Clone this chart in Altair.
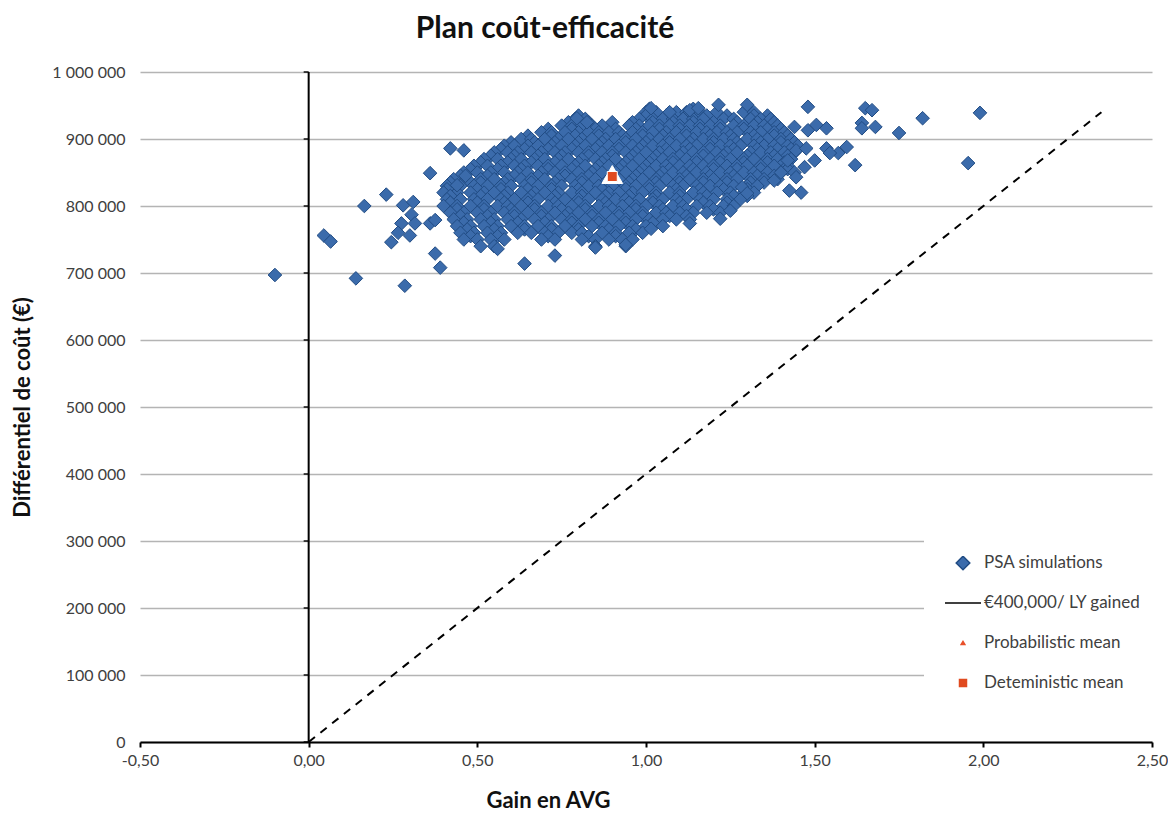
import altair as alt
import pandas as pd

SERIES = ["PSA simulations", "€400,000/ LY gained", "Probabilistic mean", "Deteministic mean"]

# Dense PSA core, read band by band: incremental LY values for each cost band (k€)
core_945 = [1.01, 1.14, 1.30]
core_940 = [1.00, 1.03, 1.09, 1.12, 1.16, 1.21, 1.29, 1.32]
core_935 = [0.80, 1.00, 1.06, 1.12, 1.18, 1.24, 1.32, 1.36]
core_930 = [0.79, 0.82, 0.98, 1.02, 1.05, 1.08, 1.11, 1.14, 1.17, 1.23, 1.26, 1.31, 1.34, 1.37]
core_925 = [0.77, 0.83, 0.90, 0.96, 1.02, 1.08, 1.14, 1.20, 1.27, 1.33, 1.38]
core_920 = [0.75, 0.78, 0.81, 0.84, 0.87, 0.95, 0.98, 1.01, 1.04, 1.07, 1.10, 1.13, 1.16, 1.19,
            1.22, 1.26, 1.29, 1.32, 1.35, 1.39]
core_915 = [0.71, 0.78, 0.85, 0.91, 0.97, 1.04, 1.10, 1.16, 1.22, 1.29, 1.36, 1.40]
core_910 = [0.69, 0.72, 0.76, 0.80, 0.83, 0.86, 0.89, 0.92, 0.96, 0.99, 1.02, 1.06, 1.09, 1.12,
            1.15, 1.18, 1.21, 1.24, 1.27, 1.31, 1.34, 1.38, 1.41]
core_905 = [0.65, 0.72, 0.79, 0.86, 0.93, 0.99, 1.05, 1.12, 1.19, 1.25, 1.32, 1.38, 1.42]
core_900 = [0.63, 0.66, 0.70, 0.74, 0.77, 0.81, 0.84, 0.88, 0.91, 0.94, 0.97, 1.01, 1.04, 1.07,
            1.10, 1.14, 1.17, 1.20, 1.23, 1.26, 1.30, 1.33, 1.36, 1.40, 1.43]
core_895 = [0.60, 0.67, 0.73, 0.80, 0.87, 0.94, 1.00, 1.07, 1.13, 1.20, 1.27, 1.34, 1.40, 1.44]
core_890 = [0.58, 0.61, 0.65, 0.68, 0.72, 0.75, 0.79, 0.82, 0.86, 0.89, 0.92, 0.96, 0.99, 1.02,
            1.05, 1.09, 1.12, 1.15, 1.19, 1.22, 1.25, 1.28, 1.32, 1.35, 1.38, 1.42, 1.45]
core_885 = [0.57, 0.64, 0.71, 0.78, 0.85, 0.92, 0.98, 1.06, 1.13, 1.19, 1.26, 1.33, 1.39, 1.43]
core_880 = [0.55, 0.59, 0.62, 0.66, 0.69, 0.73, 0.76, 0.80, 0.83, 0.87, 0.90, 0.94, 0.97, 1.00,
            1.04, 1.07, 1.11, 1.14, 1.17, 1.21, 1.24, 1.27, 1.31, 1.34, 1.37, 1.41, 1.44]
core_875 = [0.54, 0.61, 0.68, 0.75, 0.83, 0.90, 0.96, 1.03, 1.10, 1.17, 1.23, 1.30, 1.38, 1.42]
core_870 = [0.52, 0.56, 0.60, 0.63, 0.67, 0.70, 0.74, 0.77, 0.81, 0.85, 0.88, 0.91, 0.95, 0.98,
            1.02, 1.05, 1.08, 1.12, 1.15, 1.19, 1.22, 1.25, 1.29, 1.32, 1.36, 1.39, 1.43]
core_865 = [0.51, 0.59, 0.66, 0.73, 0.80, 0.87, 0.94, 1.01, 1.08, 1.15, 1.22, 1.29, 1.36, 1.41]
core_860 = [0.49, 0.53, 0.57, 0.61, 0.64, 0.68, 0.71, 0.75, 0.79, 0.82, 0.86, 0.89, 0.93, 0.96,
            1.00, 1.03, 1.06, 1.10, 1.13, 1.17, 1.20, 1.24, 1.27, 1.30, 1.34, 1.38, 1.42]
core_855 = [0.48, 0.56, 0.63, 0.71, 0.78, 0.85, 0.92, 0.99, 1.07, 1.14, 1.20, 1.27, 1.34, 1.42]
core_850 = [0.46, 0.50, 0.54, 0.58, 0.62, 0.65, 0.69, 0.73, 0.76, 0.80, 0.84, 0.87, 0.91, 0.94,
            0.98, 1.01, 1.05, 1.08, 1.11, 1.15, 1.18, 1.22, 1.25, 1.29, 1.32, 1.36, 1.40, 1.44]
core_845 = [0.45, 0.53, 0.61, 0.68, 0.76, 0.83, 0.90, 0.97, 1.04, 1.12, 1.19, 1.26, 1.33, 1.38]
core_840 = [0.43, 0.47, 0.51, 0.55, 0.59, 0.63, 0.66, 0.70, 0.74, 0.78, 0.81, 0.85, 0.89, 0.92,
            0.96, 0.99, 1.03, 1.06, 1.10, 1.13, 1.17, 1.20, 1.24, 1.27, 1.31, 1.35, 1.39]
core_835 = [0.42, 0.51, 0.58, 0.66, 0.73, 0.81, 0.88, 0.95, 1.03, 1.10, 1.17, 1.24, 1.31, 1.35]
core_830 = [0.41, 0.45, 0.49, 0.53, 0.57, 0.60, 0.64, 0.68, 0.72, 0.75, 0.79, 0.83, 0.86, 0.90,
            0.94, 0.97, 1.01, 1.04, 1.08, 1.11, 1.15, 1.19, 1.22, 1.26, 1.30, 1.33]
core_825 = [0.41, 0.50, 0.57, 0.65, 0.72, 0.80, 0.87, 0.94, 1.01, 1.09, 1.16, 1.23, 1.30]
core_820 = [0.40, 0.44, 0.48, 0.52, 0.55, 0.59, 0.63, 0.67, 0.70, 0.74, 0.78, 0.81, 0.85, 0.89,
            0.92, 0.96, 0.99, 1.03, 1.07, 1.10, 1.14, 1.17, 1.21, 1.25, 1.29, 1.32]
core_815 = [0.42, 0.51, 0.58, 0.66, 0.73, 0.81, 0.88, 0.95, 1.03, 1.10, 1.18, 1.26, 1.30]
core_810 = [0.41, 0.45, 0.49, 0.53, 0.57, 0.61, 0.65, 0.68, 0.72, 0.76, 0.80, 0.83, 0.87, 0.91,
            0.94, 0.98, 1.02, 1.05, 1.09, 1.12, 1.16, 1.20, 1.24, 1.28]
core_805 = [0.42, 0.50, 0.58, 0.65, 0.73, 0.80, 0.88, 0.95, 1.02, 1.10, 1.17, 1.24]
core_800 = [0.40, 0.44, 0.48, 0.52, 0.56, 0.59, 0.63, 0.67, 0.71, 0.74, 0.78, 0.82, 0.86, 0.89,
            0.93, 0.97, 1.00, 1.04, 1.08, 1.11, 1.15, 1.19, 1.23, 1.26]
core_795 = [0.44, 0.52, 0.60, 0.67, 0.75, 0.82, 0.90, 0.97, 1.05, 1.12, 1.20]
core_790 = [0.42, 0.46, 0.50, 0.54, 0.58, 0.61, 0.65, 0.69, 0.73, 0.77, 0.80, 0.84, 0.88, 0.92,
            0.95, 0.99, 1.03, 1.06, 1.10, 1.14, 1.18, 1.22]
core_785 = [0.45, 0.53, 0.61, 0.69, 0.76, 0.84, 0.92, 0.99, 1.07, 1.12]
core_780 = [0.43, 0.47, 0.51, 0.55, 0.59, 0.63, 0.67, 0.71, 0.75, 0.78, 0.82, 0.86, 0.90, 0.94,
            0.97, 1.01, 1.05, 1.09, 1.13]
core_775 = [0.46, 0.54, 0.62, 0.70, 0.78, 0.86, 0.94, 1.02]
core_770 = [0.44, 0.48, 0.52, 0.56, 0.60, 0.64, 0.68, 0.72, 0.76, 0.80, 0.84, 0.88, 0.92, 0.96,
            1.00, 1.05]
core_765 = [0.47, 0.55, 0.64, 0.72, 0.80, 0.89, 0.97]
core_760 = [0.45, 0.49, 0.53, 0.57, 0.62, 0.66, 0.70, 0.74, 0.78, 0.81, 0.87, 0.91, 0.95, 0.99]
core_755 = [0.48, 0.56, 0.71, 0.83, 0.91]
core_750 = [0.46, 0.50, 0.54, 0.58, 0.69, 0.73, 0.81, 0.85, 0.89, 0.93, 0.96]
core_740 = [0.51, 0.55, 0.85, 0.94]

core_bands = [
    (945, core_945), (940, core_940), (935, core_935), (930, core_930), (925, core_925),
    (920, core_920), (915, core_915), (910, core_910), (905, core_905), (900, core_900),
    (895, core_895), (890, core_890), (885, core_885), (880, core_880), (875, core_875),
    (870, core_870), (865, core_865), (860, core_860), (855, core_855), (850, core_850),
    (845, core_845), (840, core_840), (835, core_835), (830, core_830), (825, core_825),
    (820, core_820), (815, core_815), (810, core_810), (805, core_805), (800, core_800),
    (795, core_795), (790, core_790), (785, core_785), (780, core_780), (775, core_775),
    (770, core_770), (765, core_765), (760, core_760), (755, core_755), (750, core_750),
    (740, core_740),
]

# Scattered simulations around the core (LY gained, cost differential in k€)
edge_gain = [-0.10, 0.045, 0.065, 0.14, 0.165, 0.23, 0.245, 0.285, 0.28, 0.31,
             0.275, 0.305, 0.315, 0.30, 0.265, 0.36, 0.375, 0.39, 0.42, 0.46,
             0.36, 0.375, 0.44, 0.465,
             0.56, 0.64, 0.73, 0.85, 0.94, 1.015, 1.13, 1.22, 1.25, 1.285, 1.30,
             1.015, 1.07, 1.13, 1.155, 1.215, 1.30, 0.795, 0.825, 1.48,
             1.65, 1.67, 1.64, 1.64, 1.68, 1.82, 1.75, 1.99, 1.955, 1.62,
             1.535, 1.57, 1.595, 1.545, 1.48, 1.505, 1.535, 1.44, 1.445, 1.475,
             1.50, 1.47, 1.42, 1.445, 1.425, 1.46, 1.38, 1.40]
edge_cost = [697, 756, 747, 692, 800, 817, 746, 681, 801, 806,
             774, 787, 774, 756, 760, 849, 729, 708, 886, 883,
             774, 779, 831, 845,
             736, 714, 726, 738, 742, 766, 774, 781, 793, 828, 819,
             946, 940, 943, 946, 951, 951, 931, 925, 948,
             946, 943, 924, 916, 918, 931, 909, 939, 864, 861,
             886, 879, 888, 879, 913, 921, 916, 918, 883, 886,
             868, 858, 868, 843, 823, 820, 838, 850]

wtp_gain = [0.0, 2.35]
wtp_cost = [0, 940000]
prob_gain, prob_cost = [0.90], [847000]
det_gain, det_cost = [0.90], [844000]

x_ticks = [-0.5, 0.0, 0.5, 1.0, 1.5, 2.0, 2.5]
y_ticks = [0, 100000, 200000, 300000, 400000, 500000, 600000, 700000, 800000, 900000, 1000000]

# ---- tables ----
psa_rows = []
for cost_k, gains in core_bands:
    for g in gains:
        psa_rows.append({"gain": g, "cost": cost_k * 1000, "series": SERIES[0]})
for g, c in zip(edge_gain, edge_cost):
    psa_rows.append({"gain": g, "cost": c * 1000, "series": SERIES[0]})
psa_df = pd.DataFrame(psa_rows)
wtp_df = pd.DataFrame({"gain": wtp_gain, "cost": wtp_cost, "series": SERIES[1]})
prob_df = pd.DataFrame({"gain": prob_gain, "cost": prob_cost, "series": SERIES[2]})
det_df = pd.DataFrame({"gain": det_gain, "cost": det_cost, "series": SERIES[3]})
vaxis_df = pd.DataFrame({"gain": [0.0], "cost": [0], "cost2": [1000000]})
vticks_df = pd.DataFrame({"gain": [0.0] * len(y_ticks), "cost": y_ticks})

FONT = "Lato"

x_scale = alt.Scale(domain=[-0.5, 2.5], nice=False, zero=False)
y_scale = alt.Scale(domain=[0, 1000000], nice=False)

x_axis = alt.Axis(
    values=x_ticks, grid=False, labelFlush=False,
    labelExpr="replace(replace(format(datum.value, '.2f'), '.', ','), '\u2212', '-')",
    domainColor="black", domainWidth=2, tickColor="black", tickWidth=2, tickSize=5,
    labelPadding=5, labelFontSize=16, labelColor="#404040", labelFont=FONT,
    title="Gain en AVG", titleFont=FONT, titleFontSize=22, titleFontWeight="bold",
    titleColor="#111111", titleX=408, titleY=48,
)
y_axis = alt.Axis(
    values=y_ticks, grid=True, gridColor="#b4b4b4", gridWidth=1.5,
    labelExpr="replace(format(datum.value, ','), regexp(',', 'g'), ' ')",
    domain=False, ticks=False, labelPadding=15, labelFontSize=16,
    labelColor="#404040", labelFont=FONT,
    title="Différentiel de coût (€)", titleFont=FONT, titleFontSize=22,
    titleFontWeight="bold", titleColor="#111111", titleX=-118, titleBaseline="middle",
)

legend = alt.Legend(
    title=None, orient="none", legendX=784, legendY=464, fillColor="white",
    padding=20, labelFont=FONT, labelFontSize=17, labelColor="#404040",
    rowPadding=23, clipHeight=14, labelOffset=2, symbolStrokeWidth=1.5,
    symbolFillColor="transparent",
)

fill_scale = alt.Scale(domain=SERIES, range=["#3b6bab", "transparent", "#e8502a", "#e04a1f"])
stroke_scale = alt.Scale(domain=SERIES, range=["#214c84", "#000000", "#e8502a", "#e04a1f"])
shape_scale = alt.Scale(domain=SERIES, range=["diamond", "stroke", "triangle-up", "square"])
size_scale = alt.Scale(type="ordinal", domain=SERIES, range=[185, 1296, 14, 49])

X = alt.X("gain:Q", scale=x_scale, axis=x_axis)
Y = alt.Y("cost:Q", scale=y_scale, axis=y_axis)

vaxis = alt.Chart(vaxis_df).mark_rule(color="black", strokeWidth=2).encode(
    x=X, y=Y, y2="cost2:Q")
vticks = alt.Chart(vticks_df).mark_tick(
    orient="horizontal", color="black", thickness=2, size=5, xOffset=-2.5
).encode(x=X, y=Y)

wtp = alt.Chart(wtp_df).mark_line(strokeWidth=2, strokeDash=[8, 7]).encode(
    x=X, y=Y,
    stroke=alt.Stroke("series:N", scale=stroke_scale, legend=legend),
)

psa = alt.Chart(psa_df).mark_point(filled=True, opacity=1, strokeWidth=1).encode(
    x=X, y=Y,
    fill=alt.Fill("series:N", scale=fill_scale, legend=legend),
    stroke=alt.Stroke("series:N", scale=stroke_scale, legend=legend),
    shape=alt.Shape("series:N", scale=shape_scale, legend=legend),
    size=alt.Size("series:N", scale=size_scale, legend=legend),
)

prob = alt.Chart(prob_df).mark_point(
    filled=True, opacity=1, fill="white", stroke="white", strokeWidth=1, size=430
).encode(
    x=X, y=Y,
    shape=alt.Shape("series:N", scale=shape_scale, legend=legend),
)

det = alt.Chart(det_df).mark_point(
    filled=True, opacity=1, stroke="white", strokeWidth=1, size=100
).encode(
    x=X, y=Y,
    fill=alt.Fill("series:N", scale=fill_scale, legend=legend),
    shape=alt.Shape("series:N", scale=shape_scale, legend=legend),
)

chart = alt.layer(vaxis, vticks, wtp, psa, prob, det).properties(
    width=1160, height=803,
    autosize=alt.AutoSizeParams(type="fit", contains="padding"),
    padding={"left": 3, "top": 6, "right": 0, "bottom": 0},
    title=alt.TitleParams(
        "Plan coût-efficacité", font=FONT, fontSize=30, fontWeight="bold",
        color="#111111", anchor="middle", frame="group", dx=-101, offset=20,
    ),
    background="white",
).configure_view(stroke=None)

chart.save("out.html", embed_options={"renderer": "svg", "actions": False})
